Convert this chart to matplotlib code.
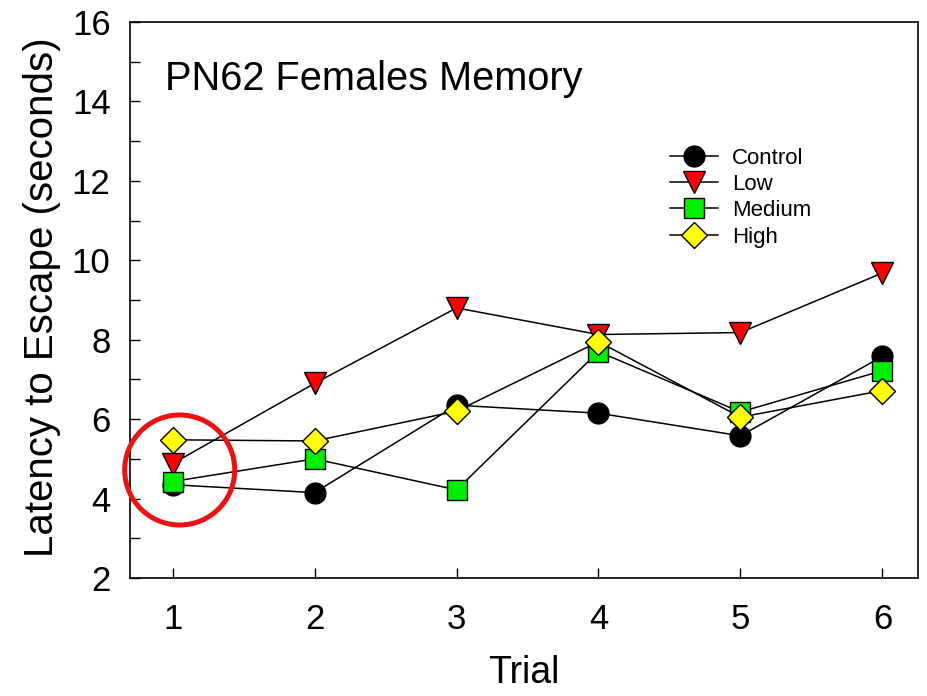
import matplotlib
matplotlib.use("Agg")
import matplotlib.pyplot as plt
from matplotlib.patches import Ellipse
from matplotlib.ticker import MultipleLocator

plt.rcParams['font.family'] = ['Liberation Sans', 'DejaVu Sans']

trials = [1, 2, 3, 4, 5, 6]
control = [4.35, 4.15, 6.35, 6.15, 5.58, 7.58]
low = [4.88, 6.90, 8.80, 8.13, 8.18, 9.68]
medium = [4.43, 5.00, 4.22, 7.70, 6.18, 7.22]
high = [5.48, 5.45, 6.20, 7.95, 6.05, 6.72]

series_names = ["Control", "Low", "Medium", "High"]
title_text = "PN62 Females Memory"
xlabel_text = "Trial"
ylabel_text = "Latency to Escape (seconds)"

fig = plt.figure(figsize=(9.28, 6.96), dpi=100)
ax = fig.add_axes([0.1401, 0.1695, 0.849, 0.799])

styles = [
    dict(marker='o', markerfacecolor='black', markersize=15),
    dict(marker='v', markerfacecolor='#ff0000', markersize=16),
    dict(marker='s', markerfacecolor='#00ee00', markersize=14),
    dict(marker='D', markerfacecolor='#ffff00', markersize=13),
]
for data, name, st in zip([control, low, medium, high], series_names, styles):
    ax.plot(trials, data, color='black', linewidth=1.1, markeredgecolor='black',
            markeredgewidth=1.0, label=name, **st)

ax.set_xlim(0.7, 6.25)
ax.set_ylim(2, 16)
ax.set_xticks(trials)
ax.yaxis.set_major_locator(MultipleLocator(2))
ax.yaxis.set_minor_locator(MultipleLocator(1))
ax.tick_params(axis='both', which='both', direction='in', length=7, width=1.0,
               labelsize=25, top=False, right=False)
ax.tick_params(axis='x', pad=18)
ax.tick_params(axis='y', pad=14)
ax.tick_params(axis='x', which='minor', bottom=False)
for sp in ax.spines.values():
    sp.set_linewidth(1.2)

ax.set_xlabel(xlabel_text, fontsize=27, labelpad=14)
ax.set_ylabel(ylabel_text, fontsize=29)
ax.yaxis.set_label_coords(-0.088, 0.505)

ax.text(0.045, 0.897, title_text, transform=ax.transAxes, fontsize=28.6,
        ha='left', va='center')

# red highlight circle around trial 1
circ = Ellipse((1.05, 4.72), width=110 / 141.9, height=110 / 39.71, fill=False,
               edgecolor='#ee1111', linewidth=3.6, zorder=5, clip_on=False)
ax.add_patch(circ)

leg = ax.legend(loc='upper left', bbox_to_anchor=(0.674, 0.79), frameon=False,
                fontsize=16, handlelength=2.15, handletextpad=0.65,
                labelspacing=0.24, markerscale=1.0, borderaxespad=0.0)

fig.savefig("out.png", dpi=100)
